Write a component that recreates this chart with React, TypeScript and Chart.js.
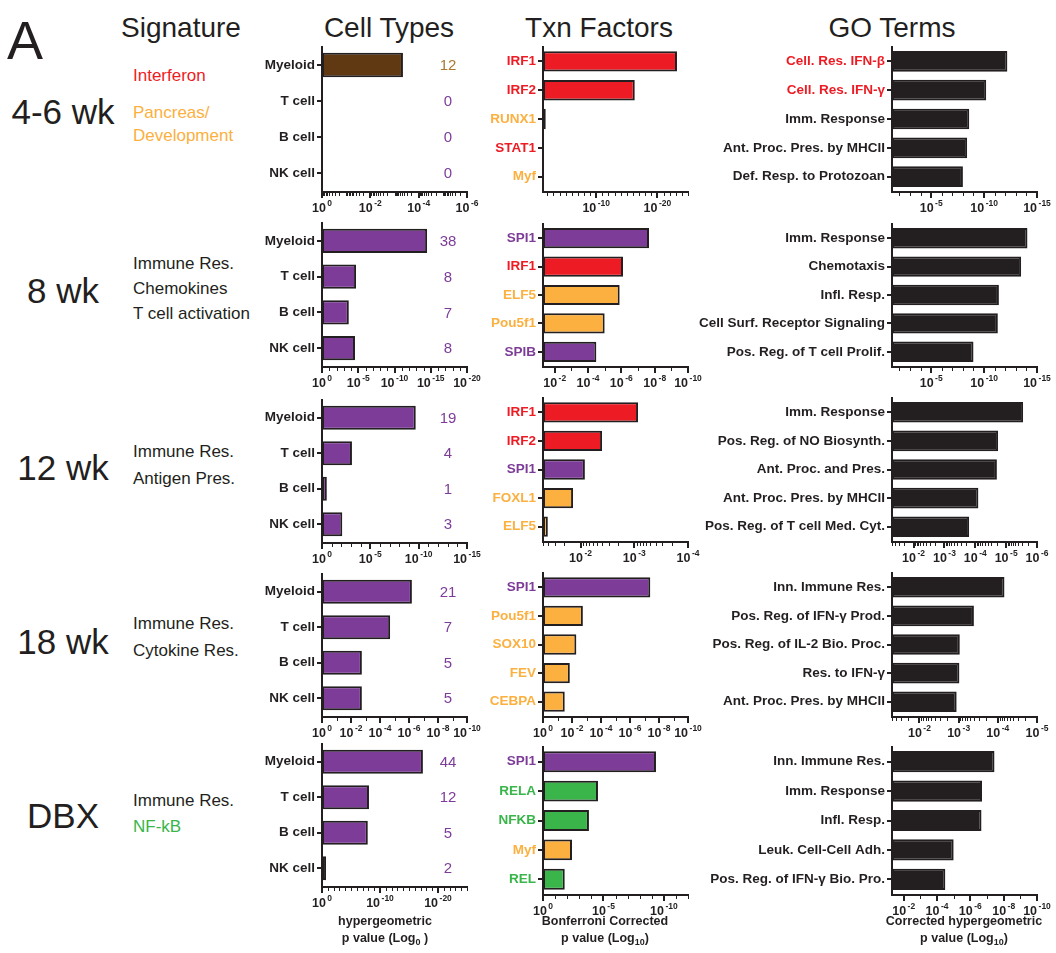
import React, { useEffect, useRef } from "react";
import { Chart, registerables } from "chart.js";

Chart.register(...registerables);

const FONT = "'Liberation Sans', Arial, Helvetica, sans-serif";
Chart.defaults.font.family = FONT;

const INK = "#231F20";
const PURPLE = "#7D3C98";
const RED = "#ED1C24";
const ORANGE = "#FBB040";
const GREEN = "#39B54A";
const BROWN = "#603913";
const TAN = "#A8792F";

const GROUP_COLORS: Record<string, string> = {
  ifn: RED,
  immune: PURPLE,
  dev: ORANGE,
  nfkb: GREEN,
  none: INK,
};

// ---------- Cell types: -log10(hypergeometric p) and gene counts ----------
const cellTypes = ["Myeloid", "T cell", "B cell", "NK cell"];

const cellP_wk4to6 = [3.35, null, null, null];
const cellP_wk8 = [14.5, 4.7, 3.7, 4.55];
const cellP_wk12 = [9.7, 3.1, 0.5, 2.1];
const cellP_wk18 = [6.2, 4.7, 2.75, 2.75];
const cellP_dbx = [17.4, 8.1, 7.9, 0.7];

const cellCounts_wk4to6 = [12, 0, 0, 0];
const cellCounts_wk8 = [38, 8, 7, 8];
const cellCounts_wk12 = [19, 4, 1, 3];
const cellCounts_wk18 = [21, 7, 5, 5];
const cellCounts_dbx = [44, 12, 5, 2];

// axis range and labelled decades (exponents of p)
const cellRange_wk4to6: [number, number] = [0, 6];
const cellRange_wk8: [number, number] = [0, 20];
const cellRange_wk12: [number, number] = [0, 15];
const cellRange_wk18: [number, number] = [0, 10];
const cellRange_dbx: [number, number] = [0, 25];
const cellTicks_wk4to6 = [0, 2, 4, 6];
const cellTicks_wk8 = [0, 5, 10, 15, 20];
const cellTicks_wk12 = [0, 5, 10, 15];
const cellTicks_wk18 = [0, 2, 4, 6, 8, 10];
const cellTicks_dbx = [0, 10, 20];

// ---------- Transcription factors: -log10(Bonferroni corrected p) ----------
const tfNames_wk4to6 = ["IRF1", "IRF2", "RUNX1", "STAT1", "Myf"];
const tfP_wk4to6 = [23.2, 16.3, 1.75, null, null];
const tfGroups_wk4to6 = ["ifn", "ifn", "dev", "ifn", "dev"];

const tfNames_wk8 = ["SPI1", "IRF1", "ELF5", "Pou5f1", "SPIB"];
const tfP_wk8 = [7.66, 6.1, 5.9, 5.0, 4.5];
const tfGroups_wk8 = ["immune", "ifn", "dev", "dev", "immune"];

const tfNames_wk12 = ["IRF1", "IRF2", "SPI1", "FOXL1", "ELF5"];
const tfP_wk12 = [3.07, 2.4, 2.08, 1.86, 1.39];
const tfGroups_wk12 = ["ifn", "ifn", "immune", "dev", "dev"];

const tfNames_wk18 = ["SPI1", "Pou5f1", "SOX10", "FEV", "CEBPA"];
const tfP_wk18 = [7.4, 2.75, 2.3, 1.85, 1.5];
const tfGroups_wk18 = ["immune", "dev", "dev", "dev", "dev"];

const tfNames_dbx = ["SPI1", "RELA", "NFKB", "Myf", "REL"];
const tfP_dbx = [9.35, 4.55, 3.8, 2.4, 1.8];
const tfGroups_dbx = ["immune", "nfkb", "nfkb", "dev", "nfkb"];

const tfRange_wk4to6: [number, number] = [1.3, 25];
const tfRange_wk8: [number, number] = [1.3, 10];
const tfRange_wk12: [number, number] = [1.3, 4];
const tfRange_wk18: [number, number] = [0, 10];
const tfRange_dbx: [number, number] = [0, 12];
const tfTicks_wk4to6 = [10, 20];
const tfTicks_wk8 = [2, 4, 6, 8, 10];
const tfTicks_wk12 = [2, 3, 4];
const tfTicks_wk18 = [0, 2, 4, 6, 8, 10];
const tfTicks_dbx = [0, 5, 10];

// ---------- GO terms: -log10(corrected hypergeometric p) ----------
const goTerms_wk4to6 = [
  "Cell. Res. IFN-\u03b2",
  "Cell. Res. IFN-\u03b3",
  "Imm. Response",
  "Ant. Proc. Pres. by MHCII",
  "Def. Resp. to Protozoan",
];
const goP_wk4to6 = [12.2, 10.2, 8.6, 8.4, 8.0];
const goGroups_wk4to6 = ["ifn", "ifn", "none", "none", "none"];

const goTerms_wk8 = [
  "Imm. Response",
  "Chemotaxis",
  "Infl. Resp.",
  "Cell Surf. Receptor Signaling",
  "Pos. Reg. of T cell Prolif.",
];
const goP_wk8 = [14.1, 13.5, 11.4, 11.3, 9.0];

const goTerms_wk12 = [
  "Imm. Response",
  "Pos. Reg. of NO Biosynth.",
  "Ant. Proc. and Pres.",
  "Ant. Proc. Pres. by MHCII",
  "Pos. Reg. of T cell Med. Cyt.",
];
const goP_wk12 = [5.55, 4.74, 4.7, 4.1, 3.8];

const goTerms_wk18 = [
  "Inn. Immune Res.",
  "Pos. Reg. of IFN-\u03b3 Prod.",
  "Pos. Reg. of IL-2 Bio. Proc.",
  "Res. to IFN-\u03b3",
  "Ant. Proc. Pres. by MHCII",
];
const goP_wk18 = [4.17, 3.39, 3.03, 3.02, 2.95];

const goTerms_dbx = [
  "Inn. Immune Res.",
  "Imm. Response",
  "Infl. Resp.",
  "Leuk. Cell-Cell Adh.",
  "Pos. Reg. of IFN-\u03b3 Bio. Pro.",
];
const goP_dbx = [7.45, 6.7, 6.67, 5.0, 4.5];

const goRange_wk4to6: [number, number] = [1.3, 15];
const goRange_wk8: [number, number] = [1.3, 15];
const goRange_wk12: [number, number] = [1.3, 6];
const goRange_wk18: [number, number] = [1.3, 5];
const goRange_dbx: [number, number] = [1.3, 10];
const goTicks_wk4to6 = [5, 10, 15];
const goTicks_wk8 = [5, 10, 15];
const goTicks_wk12 = [2, 3, 4, 5, 6];
const goTicks_wk18 = [2, 3, 4, 5];
const goTicks_dbx = [2, 4, 6, 8, 10];

// ---------- row titles and signature descriptions ----------
const stageNames = ["4-6 wk", "8 wk", "12 wk", "18 wk", "DBX"];
const signatureLines: { text: string; group: string }[][] = [
  [
    { text: "Interferon", group: "ifn" },
    { text: "Pancreas/", group: "dev" },
    { text: "Development", group: "dev" },
  ],
  [
    { text: "Immune Res.", group: "none" },
    { text: "Chemokines", group: "none" },
    { text: "T cell activation", group: "none" },
  ],
  [
    { text: "Immune Res.", group: "none" },
    { text: "Antigen Pres.", group: "none" },
  ],
  [
    { text: "Immune Res.", group: "none" },
    { text: "Cytokine Res.", group: "none" },
  ],
  [
    { text: "Immune Res.", group: "none" },
    { text: "NF-kB", group: "nfkb" },
  ],
];

// ---------- layout ----------
const PLOT_W = 145;
const PAD_TOP = 16;
const PAD_BOTTOM = 30;
const CELL_AXIS_X = 322;
const TF_AXIS_X = 543;
const GO_AXIS_X = 892;

const rowLayout = [
  { cellTop: 47, cellBottom: 191, tfTop: 47, tfBottom: 191, title: 111, sig: [75, 112, 135] },
  { cellTop: 223, cellBottom: 366, tfTop: 224, tfBottom: 366, title: 290, sig: [263, 288, 313] },
  { cellTop: 400, cellBottom: 542, tfTop: 398, tfBottom: 541, title: 467, sig: [451, 478] },
  { cellTop: 574, cellBottom: 716, tfTop: 573, tfBottom: 716, title: 641, sig: [623, 650] },
  { cellTop: 744, cellBottom: 886, tfTop: 747, tfBottom: 894, title: 815, sig: [800, 826] },
];

type PanelDef = {
  id: string;
  labels: string[];
  values: (number | null)[];
  labelColors: string[];
  barColors: string[];
  range: [number, number];
  ticks: number[];
  counts?: number[];
  countColors?: string[];
  axisX: number;
  labelW: number;
  padR: number;
  top: number;
  bottom: number;
  barPct: number;
};

const cellValues = [cellP_wk4to6, cellP_wk8, cellP_wk12, cellP_wk18, cellP_dbx];
const cellCounts = [cellCounts_wk4to6, cellCounts_wk8, cellCounts_wk12, cellCounts_wk18, cellCounts_dbx];
const cellRanges = [cellRange_wk4to6, cellRange_wk8, cellRange_wk12, cellRange_wk18, cellRange_dbx];
const cellTicks = [cellTicks_wk4to6, cellTicks_wk8, cellTicks_wk12, cellTicks_wk18, cellTicks_dbx];

const tfNames = [tfNames_wk4to6, tfNames_wk8, tfNames_wk12, tfNames_wk18, tfNames_dbx];
const tfValues = [tfP_wk4to6, tfP_wk8, tfP_wk12, tfP_wk18, tfP_dbx];
const tfGroups = [tfGroups_wk4to6, tfGroups_wk8, tfGroups_wk12, tfGroups_wk18, tfGroups_dbx];
const tfRanges = [tfRange_wk4to6, tfRange_wk8, tfRange_wk12, tfRange_wk18, tfRange_dbx];
const tfTicks = [tfTicks_wk4to6, tfTicks_wk8, tfTicks_wk12, tfTicks_wk18, tfTicks_dbx];

const goTerms = [goTerms_wk4to6, goTerms_wk8, goTerms_wk12, goTerms_wk18, goTerms_dbx];
const goValues = [goP_wk4to6, goP_wk8, goP_wk12, goP_wk18, goP_dbx];
const goRanges = [goRange_wk4to6, goRange_wk8, goRange_wk12, goRange_wk18, goRange_dbx];
const goTicks = [goTicks_wk4to6, goTicks_wk8, goTicks_wk12, goTicks_wk18, goTicks_dbx];

const panels: PanelDef[] = [];
rowLayout.forEach((row, r) => {
  const cellBar = r === 0 ? BROWN : PURPLE;
  panels.push({
    id: `cell-${r}`,
    labels: cellTypes,
    values: cellValues[r],
    labelColors: cellTypes.map(() => INK),
    barColors: cellTypes.map(() => cellBar),
    range: cellRanges[r],
    ticks: cellTicks[r],
    counts: cellCounts[r],
    countColors: cellCounts[r].map((_, i) => (r === 0 && i === 0 ? TAN : PURPLE)),
    axisX: CELL_AXIS_X,
    labelW: 80,
    padR: 18,
    top: row.cellTop,
    bottom: row.cellBottom,
    barPct: 0.68,
  });
  const tfCols = tfGroups[r].map((g) => GROUP_COLORS[g]);
  panels.push({
    id: `tf-${r}`,
    labels: tfNames[r],
    values: tfValues[r],
    labelColors: tfCols,
    barColors: tfCols,
    range: tfRanges[r],
    ticks: tfTicks[r],
    axisX: TF_AXIS_X,
    labelW: 72,
    padR: 18,
    top: row.tfTop,
    bottom: row.tfBottom,
    barPct: 0.71,
  });
  const goLabelCols = goTerms[r].map((_, i) => (r === 0 ? GROUP_COLORS[goGroups_wk4to6[i]] : INK));
  panels.push({
    id: `go-${r}`,
    labels: goTerms[r],
    values: goValues[r],
    labelColors: goLabelCols,
    barColors: goTerms[r].map(() => INK),
    range: goRanges[r],
    ticks: goTicks[r],
    axisX: GO_AXIS_X,
    labelW: 200,
    padR: 17,
    top: row.tfTop,
    bottom: row.tfBottom,
    barPct: 0.72,
  });
});

function Panel({ p }: { p: PanelDef }) {
  const ref = useRef<HTMLCanvasElement>(null);
  const width = p.labelW + PLOT_W + p.padR;
  const height = PAD_TOP + (p.bottom - p.top) + PAD_BOTTOM;

  useEffect(() => {
    const [min, max] = p.range;

    // draws the value axis in log-decade style: line, decade ticks, 10^-n labels, counts
    const axisPlugin = {
      id: "decadeAxis",
      afterDraw(chart: any) {
        const { ctx, chartArea } = chart;
        const xs = chart.scales.x;
        const ys = chart.scales.y;
        const y0 = chartArea.bottom;
        ctx.save();
        ctx.strokeStyle = INK;
        ctx.lineWidth = 2;
        ctx.beginPath();
        ctx.moveTo(chartArea.left - 1, y0 + 1);
        ctx.lineTo(chartArea.right + 1, y0 + 1);
        ctx.stroke();

        const unitPx = xs.getPixelForValue(1) - xs.getPixelForValue(0);
        const minors: number[] = [];
        for (let d = Math.floor(min); d <= Math.ceil(max); d++) {
          if (d >= min - 1e-9 && d <= max + 1e-9 && !p.ticks.includes(d)) minors.push(d);
          if (unitPx >= 20) {
            for (let k = 2; k <= 9; k++) {
              const v = d + 1 - Math.log10(k);
              if (v > min + 1e-6 && v < max - 1e-6) minors.push(v);
            }
          }
        }
        ctx.lineWidth = 1;
        minors.forEach((v) => {
          const x = Math.round(xs.getPixelForValue(v)) + 0.5;
          ctx.beginPath();
          ctx.moveTo(x, y0 + 2);
          ctx.lineTo(x, y0 + 5);
          ctx.stroke();
        });
        ctx.lineWidth = 2;
        p.ticks.forEach((v) => {
          const x = Math.round(xs.getPixelForValue(v));
          ctx.beginPath();
          ctx.moveTo(x, y0 + 2);
          ctx.lineTo(x, y0 + 7);
          ctx.stroke();
        });

        ctx.fillStyle = INK;
        ctx.textBaseline = "alphabetic";
        ctx.textAlign = "left";
        const baseFont = `bold 12.5px ${FONT}`;
        const supFont = `bold 8.5px ${FONT}`;
        p.ticks.forEach((v) => {
          const px = xs.getPixelForValue(v);
          const base = "10";
          const sup = v === 0 ? "0" : `-${v}`;
          ctx.font = baseFont;
          const wb = ctx.measureText(base).width;
          ctx.font = supFont;
          const ws = ctx.measureText(sup).width;
          const x0 = px - (wb + 1.5 + ws) / 2;
          ctx.font = baseFont;
          ctx.fillText(base, x0, y0 + 21);
          ctx.font = supFont;
          ctx.fillText(sup, x0 + wb + 1.5, y0 + 15);
        });

        if (p.counts) {
          ctx.font = `15px ${FONT}`;
          ctx.textAlign = "center";
          ctx.textBaseline = "middle";
          p.counts.forEach((c, i) => {
            ctx.fillStyle = p.countColors ? p.countColors[i] : PURPLE;
            ctx.fillText(String(c), chartArea.left + 126, ys.getPixelForValue(i) + 1);
          });
        }
        ctx.restore();
      },
    };

    const chart = new Chart(ref.current as HTMLCanvasElement, {
      type: "bar",
      data: {
        labels: p.labels,
        datasets: [
          {
            data: p.values.map((v) => (v == null ? null : [min, v])) as any,
            backgroundColor: p.barColors,
            borderColor: INK,
            borderWidth: 2,
            borderSkipped: false,
            barPercentage: p.barPct,
            categoryPercentage: 1,
          },
        ],
      },
      options: {
        indexAxis: "y",
        animation: false,
        responsive: false,
        devicePixelRatio: 1,
        events: [],
        layout: { padding: { top: PAD_TOP, right: p.padR, bottom: PAD_BOTTOM, left: 0 } },
        plugins: { legend: { display: false }, tooltip: { enabled: false } },
        scales: {
          x: { type: "linear", min, max, display: false },
          y: {
            type: "category",
            offset: true,
            grid: {
              display: true,
              offset: false,
              drawOnChartArea: false,
              drawTicks: true,
              tickLength: 5,
              color: INK,
              lineWidth: 2,
            },
            border: { display: true, color: INK, width: 2 },
            ticks: {
              autoSkip: false,
              padding: 2,
              color: (c: any) => p.labelColors[c.index] || INK,
              font: { family: FONT, size: 13.5, weight: "bold" },
            },
            afterFit: (s: any) => {
              s.width = p.labelW;
            },
          },
        },
      },
      plugins: [axisPlugin],
    } as any);
    return () => chart.destroy();
  }, []);

  return (
    <canvas
      ref={ref}
      width={width}
      height={height}
      style={{
        position: "absolute",
        left: p.axisX - p.labelW,
        top: p.top - PAD_TOP,
        width,
        height,
      }}
    />
  );
}

function Label({
  x,
  cy,
  size,
  color = INK,
  align = "left",
  weight = "normal",
  children,
}: {
  x: number;
  cy: number;
  size: number;
  color?: string;
  align?: "left" | "center";
  weight?: string;
  children: React.ReactNode;
}) {
  return (
    <div
      style={{
        position: "absolute",
        left: align === "center" ? x - 200 : x,
        width: align === "center" ? 400 : undefined,
        top: cy - size * 0.49,
        fontSize: size,
        lineHeight: `${size}px`,
        fontWeight: weight as any,
        color,
        textAlign: align,
        whiteSpace: "nowrap",
        fontFamily: FONT,
      }}
    >
      {children}
    </div>
  );
}

const subStyle: React.CSSProperties = { fontSize: 9, verticalAlign: -3, lineHeight: 0 };

export default function App() {
  return (
    <div
      style={{
        position: "absolute",
        left: 0,
        top: 0,
        width: 1056,
        height: 953,
        background: "#ffffff",
        overflow: "hidden",
      }}
    >
      <Label x={7} cy={39} size={54}>
        A
      </Label>
      <Label x={181} cy={28} size={28} align="center">
        Signature
      </Label>
      <Label x={389} cy={28} size={28} align="center">
        Cell Types
      </Label>
      <Label x={599} cy={28} size={28} align="center">
        Txn Factors
      </Label>
      <Label x={892} cy={28} size={28} align="center">
        GO Terms
      </Label>

      {rowLayout.map((row, r) => (
        <React.Fragment key={`row-${r}`}>
          <Label x={63} cy={row.title} size={35} align="center">
            {stageNames[r]}
          </Label>
          {signatureLines[r].map((ln, i) => (
            <Label key={i} x={133} cy={row.sig[i]} size={17} color={GROUP_COLORS[ln.group]}>
              {ln.text}
            </Label>
          ))}
        </React.Fragment>
      ))}

      {panels.map((p) => (
        <Panel key={p.id} p={p} />
      ))}

      <Label x={385} cy={921} size={12.5} weight="bold" align="center">
        hypergeometric
      </Label>
      <Label x={385} cy={938} size={12.5} weight="bold" align="center">
        p value (Log<sub style={subStyle}>0</sub> )
      </Label>
      <Label x={605} cy={921} size={12.5} weight="bold" align="center">
        Bonferroni Corrected
      </Label>
      <Label x={605} cy={938} size={12.5} weight="bold" align="center">
        p value (Log<sub style={subStyle}>10</sub>)
      </Label>
      <Label x={964} cy={921} size={12.5} weight="bold" align="center">
        Corrected hypergeometric
      </Label>
      <Label x={964} cy={938} size={12.5} weight="bold" align="center">
        p value (Log<sub style={subStyle}>10</sub>)
      </Label>
    </div>
  );
}
